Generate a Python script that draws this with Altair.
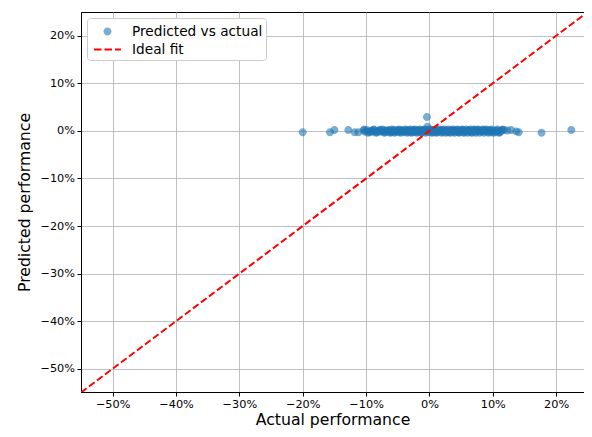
import altair as alt
import pandas as pd

series = ["Predicted vs actual", "Ideal fit"]
colors = ["rgba(31,119,180,0.6)", "#ff0000"]
x_limits = [-0.55, 0.244]
y_limits = [-0.549, 0.25]
line_ends = [-0.55, 0.25]
ticks = [-0.5, -0.4, -0.3, -0.2, -0.1, 0.0, 0.1, 0.2]

actual = [
    -0.200, -0.157, -0.150, -0.128, -0.118, -0.112, -0.104, -0.101, -0.099, -0.096,
    -0.094, -0.091, -0.089, -0.087, -0.085, -0.083, -0.080, -0.078, -0.077, -0.074,
    -0.072, -0.070, -0.069, -0.067, -0.065, -0.063, -0.061, -0.060, -0.058, -0.056,
    -0.054, -0.053, -0.051, -0.049, -0.047, -0.046, -0.044, -0.043, -0.041, -0.039,
    -0.037, -0.036, -0.034, -0.032, -0.031, -0.029, -0.027, -0.026, -0.024, -0.022,
    -0.021, -0.019, -0.017, -0.016, -0.014, -0.012, -0.011, -0.009, -0.007, -0.005,
    -0.004, -0.004, -0.003, -0.002, 0.000, 0.002, 0.003, 0.005, 0.007, 0.008,
    0.010, 0.012, 0.013, 0.015, 0.017, 0.018, 0.020, 0.022, 0.024, 0.025,
    0.027, 0.029, 0.030, 0.032, 0.034, 0.036, 0.037, 0.039, 0.041, 0.043,
    0.044, 0.046, 0.048, 0.050, 0.051, 0.053, 0.055, 0.057, 0.059, 0.061,
    0.062, 0.064, 0.066, 0.068, 0.070, 0.072, 0.074, 0.076, 0.078, 0.080,
    0.082, 0.085, 0.087, 0.089, 0.092, 0.094, 0.097, 0.099, 0.102, 0.105,
    0.108, 0.111, 0.114, 0.118, 0.123, 0.129, 0.137, 0.141, 0.177, 0.224,
]
predicted = [
    -0.003, -0.003, 0.002, 0.002, -0.003, -0.003, 0.001, -0.002, 0.002, -0.001,
    -0.003, 0.001, -0.002, 0.002, -0.001, -0.003, 0.001, 0.002, -0.002, -0.001,
    0.002, -0.003, 0.000, 0.001, -0.002, 0.002, -0.001, -0.003, 0.001, 0.002,
    -0.002, 0.000, 0.002, -0.003, 0.001, -0.001, 0.002, -0.002, 0.000, -0.003,
    0.001, 0.002, -0.002, -0.001, 0.002, -0.003, 0.001, -0.002, 0.002, -0.001,
    -0.003, 0.001, 0.002, -0.002, 0.000, -0.003, 0.002, -0.001, 0.001, -0.002,
    0.002, 0.029, 0.009, -0.002, 0.001, -0.003, 0.002, -0.001, -0.003, 0.001,
    -0.002, 0.002, -0.003, 0.000, 0.001, -0.002, 0.002, -0.003, -0.001, 0.001,
    0.002, -0.002, -0.003, 0.001, -0.001, 0.002, -0.003, 0.000, 0.001, -0.002,
    0.002, -0.003, -0.001, 0.001, -0.002, 0.002, -0.003, 0.000, 0.001, -0.002,
    0.002, -0.001, -0.003, 0.001, 0.002, -0.002, 0.000, 0.002, -0.001, 0.001,
    -0.002, 0.002, -0.001, 0.001, -0.002, 0.002, -0.003, 0.001, -0.001, -0.003,
    0.001, -0.003, 0.002, 0.002, 0.001, 0.002, -0.001, -0.003, -0.004, 0.002,
]

# second group of points filling the dense band
actual_b = [
    -0.103, -0.097, -0.092, -0.088, -0.084, -0.079, -0.075, -0.071, -0.066, -0.062,
    -0.059, -0.055, -0.052, -0.048, -0.045, -0.042, -0.038, -0.035, -0.033, -0.030,
    -0.028, -0.025, -0.023, -0.020, -0.018, -0.015, -0.013, -0.010, -0.008, -0.006,
    -0.001, 0.001, 0.004, 0.006, 0.009, 0.011, 0.014, 0.016, 0.019, 0.021,
    0.023, 0.026, 0.028, 0.031, 0.033, 0.035, 0.038, 0.040, 0.042, 0.045,
    0.047, 0.049, 0.052, 0.054, 0.056, 0.058, 0.060, 0.063, 0.065, 0.067,
    0.069, 0.071, 0.073, 0.075, 0.077, 0.079, 0.081, 0.084, 0.086, 0.088,
    0.090, 0.093, 0.096, 0.098, 0.101, 0.104, 0.107, 0.110, 0.113, 0.116,
]
predicted_b = [
    0.003, -0.004, 0.000, 0.003, -0.004, 0.000, 0.003, -0.004, 0.001, -0.004,
    0.003, -0.004, 0.000, 0.003, -0.004, 0.001, 0.003, -0.004, 0.000, 0.003,
    -0.004, 0.001, 0.003, -0.004, 0.000, 0.003, -0.004, 0.001, 0.003, -0.004,
    0.000, 0.003, -0.004, 0.001, 0.003, -0.004, 0.000, 0.003, -0.004, 0.001,
    0.003, -0.004, 0.000, 0.003, -0.004, 0.001, 0.003, -0.004, 0.000, 0.003,
    -0.004, 0.001, 0.003, -0.004, 0.000, 0.003, -0.004, 0.001, 0.003, -0.004,
    0.000, 0.003, -0.004, 0.001, 0.003, -0.004, 0.000, 0.003, -0.004, 0.001,
    0.003, -0.004, 0.000, 0.003, -0.004, 0.001, 0.003, -0.004, 0.000, 0.003,
]

pts = pd.DataFrame({"Actual": actual + actual_b,
                    "Predicted": predicted + predicted_b,
                    "series": series[0]})
ideal = pd.DataFrame({"Actual": line_ends, "Predicted": line_ends, "series": series[1]})

# symbol paths (unit = 9.5 px at size 361)
circle_path = "M-0.42,0A0.42,0.42,0,1,1,0.42,0A0.42,0.42,0,1,1,-0.42,0Z"
dash_path = ("M-1.42,-0.105L-0.63,-0.105L-0.63,0.105L-1.42,0.105Z"
             "M-0.32,-0.105L0.47,-0.105L0.47,0.105L-0.32,0.105Z"
             "M0.79,-0.105L1.42,-0.105L1.42,0.105L0.79,0.105Z")

xscale = alt.Scale(domain=x_limits, nice=False, zero=False)
yscale = alt.Scale(domain=y_limits, nice=False, zero=False)
xaxis = alt.Axis(values=ticks, format=".0%", title="Actual performance")
yaxis = alt.Axis(values=ticks, format=".0%", title="Predicted performance")

line = alt.Chart(ideal).mark_line(color="#ff0000", strokeWidth=2, strokeDash=[7, 3], clip=True).encode(
    x=alt.X("Actual:Q", scale=xscale, axis=xaxis),
    y=alt.Y("Predicted:Q", scale=yscale, axis=yaxis),
    order=alt.Order("Actual:Q"),
)

points = alt.Chart(pts).mark_point(filled=True, size=361, opacity=1).encode(
    x=alt.X("Actual:Q", scale=xscale, axis=xaxis),
    y=alt.Y("Predicted:Q", scale=yscale, axis=yaxis),
    color=alt.Color("series:N", scale=alt.Scale(domain=series, range=colors),
                    legend=alt.Legend(title=None, orient="top-left", offset=6,
                                      fillColor="white", strokeColor="#cccccc",
                                      cornerRadius=3, padding=3,
                                      labelFontSize=13.7, labelColor="black",
                                      symbolSize=361, rowPadding=0,
                                      symbolOffset=7, labelOffset=14)),
    shape=alt.Shape("series:N", scale=alt.Scale(domain=series, range=[circle_path, dash_path]),
                    legend=alt.Legend(title=None, orient="top-left")),
)

chart = alt.layer(points, line).properties(
    width=503, height=380,
    autosize=alt.AutoSizeParams(type="none"),
    padding={"left": 73, "top": 4, "right": 0, "bottom": 37},
).configure(font="DejaVu Sans").configure_view(
    stroke="black", strokeWidth=1
).configure_axis(
    gridColor="#b0b0b0", gridWidth=0.8, domainColor="black", domainWidth=1,
    tickColor="black", tickSize=4, labelFontSize=11.3, labelColor="black",
    titleFontSize=15.7, titleFontWeight="normal", titleColor="black", labelPadding=2.5,
).configure_axisX(titlePadding=2.5).configure_axisY(titlePadding=7)

chart.save("out.html", embed_options={"renderer": "svg", "actions": False})
